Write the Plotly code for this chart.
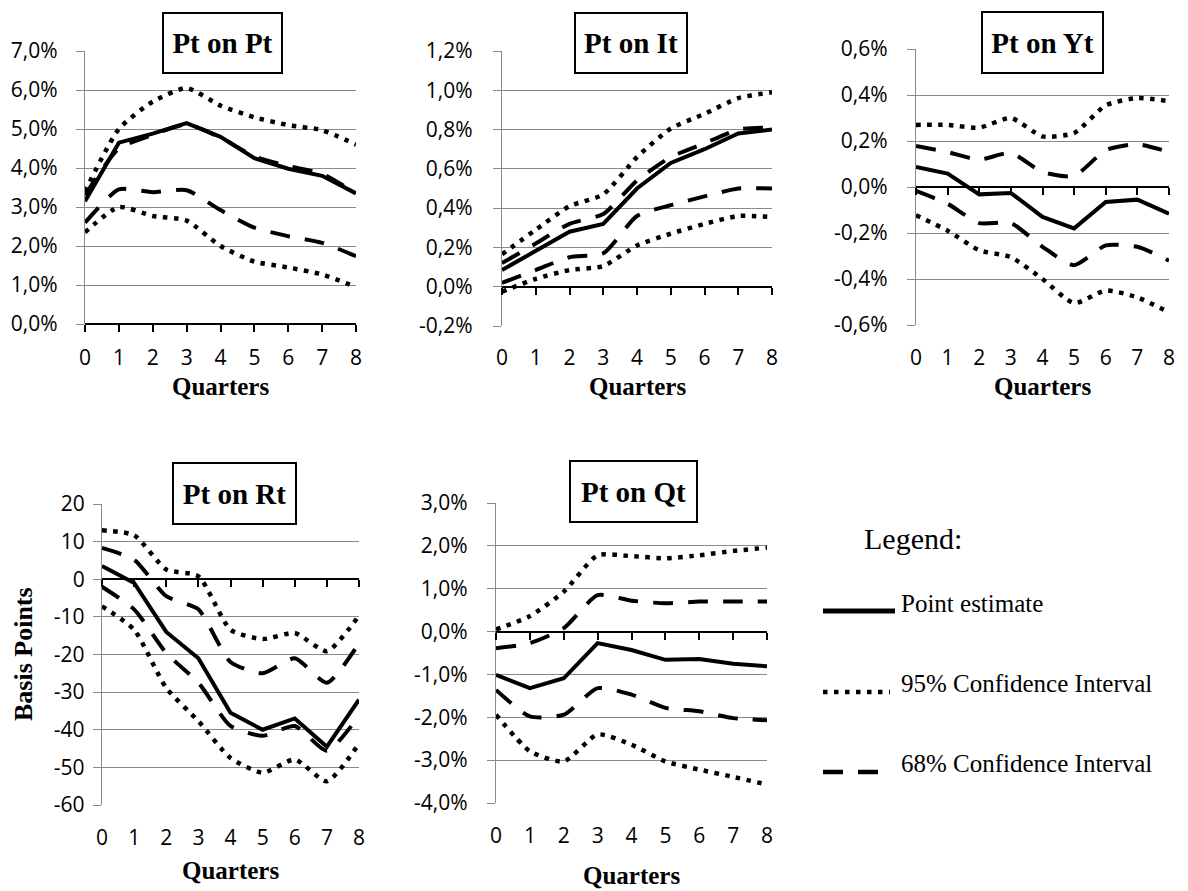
import plotly.graph_objects as go

# ---------------------------------------------------------------------------
# Impulse responses of a price shock (Pt) over 8 quarters
# ---------------------------------------------------------------------------
quarters = [0, 1, 2, 3, 4, 5, 6, 7, 8]

# Pt on Pt (percent)
pp_point = [3.15, 4.65, 4.88, 5.15, 4.80, 4.25, 3.98, 3.80, 3.35]
pp_up68 = [3.30, 4.50, 4.85, 5.12, 4.78, 4.30, 4.05, 3.85, 3.35]
pp_lo68 = [2.60, 3.45, 3.38, 3.43, 2.92, 2.47, 2.25, 2.08, 1.74]
pp_up95 = [3.40, 5.00, 5.70, 6.05, 5.60, 5.30, 5.10, 4.97, 4.60]
pp_lo95 = [2.35, 3.00, 2.77, 2.65, 2.00, 1.60, 1.45, 1.27, 0.95]

# Pt on It (percent)
pi_point = [0.085, 0.18, 0.28, 0.32, 0.50, 0.63, 0.70, 0.78, 0.80]
pi_up68 = [0.12, 0.22, 0.32, 0.37, 0.54, 0.66, 0.73, 0.80, 0.81]
pi_lo68 = [0.02, 0.085, 0.15, 0.17, 0.36, 0.415, 0.46, 0.50, 0.50]
pi_up95 = [0.165, 0.29, 0.41, 0.47, 0.66, 0.805, 0.88, 0.96, 0.99]
pi_lo95 = [-0.025, 0.04, 0.085, 0.105, 0.21, 0.27, 0.32, 0.36, 0.355]

# Pt on Yt (percent)
py_point = [0.087, 0.058, -0.032, -0.026, -0.13, -0.18, -0.065, -0.055, -0.116]
py_up68 = [0.178, 0.152, 0.119, 0.148, 0.065, 0.048, 0.16, 0.186, 0.152]
py_lo68 = [-0.017, -0.073, -0.157, -0.157, -0.26, -0.34, -0.254, -0.26, -0.32]
py_up95 = [0.27, 0.27, 0.258, 0.30, 0.22, 0.235, 0.355, 0.387, 0.373]
py_lo95 = [-0.123, -0.19, -0.275, -0.305, -0.40, -0.505, -0.45, -0.48, -0.545]

# Pt on Rt (basis points)
pr_point = [3.5, -1.0, -14.0, -21.0, -35.5, -40.0, -37.0, -44.5, -32.0]
pr_up68 = [8.3, 5.2, -4.5, -8.0, -22.0, -25.0, -21.0, -27.5, -17.0]
pr_lo68 = [-2.0, -8.0, -19.6, -27.5, -39.0, -41.6, -39.0, -45.6, -36.3]
pr_up95 = [13.0, 11.7, 2.6, 0.8, -13.4, -15.9, -14.3, -19.1, -9.7]
pr_lo95 = [-7.2, -13.4, -28.9, -37.7, -47.5, -51.4, -47.9, -53.7, -43.7]

# Pt on Qt (percent)
pq_point = [-1.01, -1.32, -1.09, -0.27, -0.43, -0.66, -0.64, -0.75, -0.81]
pq_up68 = [-0.39, -0.27, 0.08, 0.85, 0.72, 0.66, 0.70, 0.70, 0.70]
pq_lo68 = [-1.36, -1.98, -1.94, -1.32, -1.47, -1.78, -1.86, -2.02, -2.07]
pq_up95 = [0.05, 0.36, 0.93, 1.78, 1.76, 1.71, 1.78, 1.88, 1.96]
pq_lo95 = [-1.94, -2.79, -3.03, -2.40, -2.64, -3.03, -3.22, -3.39, -3.57]

# Tick values and labels of the vertical axes
pp_ticks = [0, 1, 2, 3, 4, 5, 6, 7]
pp_labels = ["0,0%", "1,0%", "2,0%", "3,0%", "4,0%", "5,0%", "6,0%", "7,0%"]
pi_ticks = [-0.2, 0.0, 0.2, 0.4, 0.6, 0.8, 1.0, 1.2]
pi_labels = ["-0,2%", "0,0%", "0,2%", "0,4%", "0,6%", "0,8%", "1,0%", "1,2%"]
py_ticks = [-0.6, -0.4, -0.2, 0.0, 0.2, 0.4, 0.6]
py_labels = ["-0,6%", "-0,4%", "-0,2%", "0,0%", "0,2%", "0,4%", "0,6%"]
pr_ticks = [-60, -50, -40, -30, -20, -10, 0, 10, 20]
pr_labels = ["-60", "-50", "-40", "-30", "-20", "-10", "0", "10", "20"]
pq_ticks = [-4, -3, -2, -1, 0, 1, 2, 3]
pq_labels = ["-4,0%", "-3,0%", "-2,0%", "-1,0%", "0,0%", "1,0%", "2,0%", "3,0%"]
quarter_labels = ["0", "1", "2", "3", "4", "5", "6", "7", "8"]

titles = ["Pt on Pt", "Pt on It", "Pt on Yt", "Pt on Rt", "Pt on Qt"]
legend_names = ["Point estimate", "95% Confidence Interval", "68% Confidence Interval"]

# ---------------------------------------------------------------------------
W, H = 1188, 891
SANS = "Open Sans"
SERIF = "Liberation Serif"
GRID = "#8a8a8a"
LW = 4
DOT_W = 4.5
DOT = "4.5px,6.5px"
DASH = "20px,15px"


def px(x):
    return x / W


def py(y):
    return 1 - y / H


# panel boxes in pixels: left, right, top, bottom
panels = [
    dict(box=(85, 356, 51, 324), ticks=pp_ticks, labels=pp_labels,
         series=(pp_point, pp_up68, pp_lo68, pp_up95, pp_lo95),
         title_box=(222, 43, 121, 62), ystand=14, xstand=19, qy=386),
    dict(box=(502, 772, 51, 326), ticks=pi_ticks, labels=pi_labels,
         series=(pi_point, pi_up68, pi_lo68, pi_up95, pi_lo95),
         title_box=(631, 43, 114, 62), ystand=16, xstand=17, qy=386),
    dict(box=(916, 1169, 49, 325), ticks=py_ticks, labels=py_labels,
         series=(py_point, py_up68, py_lo68, py_up95, py_lo95),
         title_box=(1042, 42, 123, 63), ystand=15, xstand=18, qy=386),
    dict(box=(102, 359, 504, 805), ticks=pr_ticks, labels=pr_labels,
         series=(pr_point, pr_up68, pr_lo68, pr_up95, pr_lo95),
         title_box=(235, 493, 125, 63), ystand=4, xstand=18, qy=870),
    dict(box=(496, 767, 503, 803), ticks=pq_ticks, labels=pq_labels,
         series=(pq_point, pq_up68, pq_lo68, pq_up95, pq_lo95),
         title_box=(633, 491, 129, 63), ystand=15, xstand=18, qy=875),
]

fig = go.Figure()
layout = {}
annotations = []
shapes = []

for i, p in enumerate(panels):
    n = "" if i == 0 else str(i + 1)
    xa, ya = "x" + n, "y" + n
    k = str(i + 6)
    l, r, t, b = p["box"]
    ymin, ymax = p["ticks"][0], p["ticks"][-1]
    xdom = [px(l), px(r)]
    ydom = [py(b), py(t)]

    point, up68, lo68, up95, lo95 = p["series"]
    for vals in (up95, lo95):
        fig.add_trace(go.Scatter(x=quarters, y=vals, mode="lines", xaxis=xa, yaxis=ya,
                                 line=dict(color="black", width=DOT_W, dash=DOT,
                                           shape="spline", smoothing=0.6),
                                 showlegend=False, hoverinfo="skip"))
    for vals in (up68, lo68):
        fig.add_trace(go.Scatter(x=quarters, y=vals, mode="lines", xaxis=xa, yaxis=ya,
                                 line=dict(color="black", width=LW, dash=DASH,
                                           shape="spline", smoothing=0.6),
                                 showlegend=False, hoverinfo="skip"))
    fig.add_trace(go.Scatter(x=quarters, y=point, mode="lines", xaxis=xa, yaxis=ya,
                             line=dict(color="black", width=LW),
                             showlegend=False, hoverinfo="skip"))
    # empty trace that registers the zero-crossing axis of this panel
    fig.add_trace(go.Scatter(x=[None], y=[None], mode="lines", xaxis="x" + k, yaxis=ya,
                             showlegend=False, hoverinfo="skip"))

    layout["xaxis" + n] = dict(
        domain=xdom, anchor=ya, range=[0, 8], tickvals=quarters, ticktext=quarter_labels,
        showgrid=False, zeroline=False, showline=False, ticks="", automargin=False,
        ticklabelstandoff=p["xstand"], tickfont=dict(family=SANS, size=21, color="black"),
        fixedrange=True,
    )
    layout["yaxis" + n] = dict(
        domain=ydom, anchor=xa, range=[ymin, ymax], tickvals=p["ticks"], ticktext=p["labels"],
        showgrid=True, gridcolor=GRID, gridwidth=1.3, zeroline=False,
        showline=True, linecolor=GRID, linewidth=1.3, automargin=False,
        ticks="outside", ticklen=8, tickcolor=GRID, tickwidth=1.3,
        ticklabelstandoff=p["ystand"], tickfont=dict(family=SANS, size=21, color="black"),
        fixedrange=True,
    )
    # horizontal axis crossing at zero, with its tick marks
    zero_pos = ydom[0] + (0 - ymin) / (ymax - ymin) * (ydom[1] - ydom[0])
    layout["xaxis" + k] = dict(
        domain=xdom, overlaying=xa, anchor="free", position=zero_pos,
        range=[0, 8], tickvals=quarters, showticklabels=False, automargin=False,
        ticks="outside", ticklen=7, tickwidth=1.6, tickcolor="black",
        showline=True, linecolor="black", linewidth=2,
        showgrid=False, zeroline=False, fixedrange=True,
    )

    # boxed panel title
    cx, cy, bw, bh = p["title_box"]
    annotations.append(dict(
        text="<b>" + titles[i] + "</b>", x=px(cx), y=py(cy), xref="paper", yref="paper",
        xanchor="center", yanchor="middle", showarrow=False,
        font=dict(family=SERIF, size=29, color="black"),
        bgcolor="white", bordercolor="black", borderwidth=2, borderpad=0,
        width=bw - 4, height=bh - 4, align="center", valign="middle",
    ))
    # horizontal axis title
    annotations.append(dict(
        text="<b>Quarters</b>", x=(xdom[0] + xdom[1]) / 2, y=py(p["qy"]),
        xref="paper", yref="paper", xanchor="center", yanchor="middle", showarrow=False,
        font=dict(family=SERIF, size=25, color="black"),
    ))

# vertical axis title of the interest-rate panel
annotations.append(dict(
    text="<b>Basis Points</b>", x=px(23), y=py(654), xref="paper", yref="paper",
    xanchor="center", yanchor="middle", showarrow=False, textangle=-90,
    font=dict(family=SERIF, size=26, color="black"),
))

# legend block
annotations.append(dict(
    text="Legend:", x=px(913), y=py(538), xref="paper", yref="paper",
    xanchor="center", yanchor="middle", showarrow=False,
    font=dict(family=SERIF, size=30, color="black"),
))
legend_rows = [(603, 611, None), (683, 692, DOT), (763, 772, DASH)]
for name, (ty, ly, dash) in zip(legend_names, legend_rows):
    annotations.append(dict(
        text=name, x=px(899), y=py(ty), xref="paper", yref="paper",
        xanchor="left", yanchor="middle", showarrow=False,
        font=dict(family=SERIF, size=25, color="black"),
    ))
    if dash is None:
        line = dict(color="black", width=5)
    elif dash == DOT:
        line = dict(color="black", width=DOT_W, dash=dash)
    else:
        line = dict(color="black", width=LW + 0.5, dash=dash)
    shapes.append(dict(type="line", xref="paper", yref="paper",
                       x0=px(823), x1=px(895 if dash is None else 890),
                       y0=py(ly), y1=py(ly), line=line))

fig.update_layout(
    width=W, height=H, margin=dict(l=0, r=0, t=0, b=0, autoexpand=False),
    paper_bgcolor="white", plot_bgcolor="white",
    annotations=annotations, shapes=shapes, showlegend=False,
    **layout,
)

fig.write_html("out.html")
